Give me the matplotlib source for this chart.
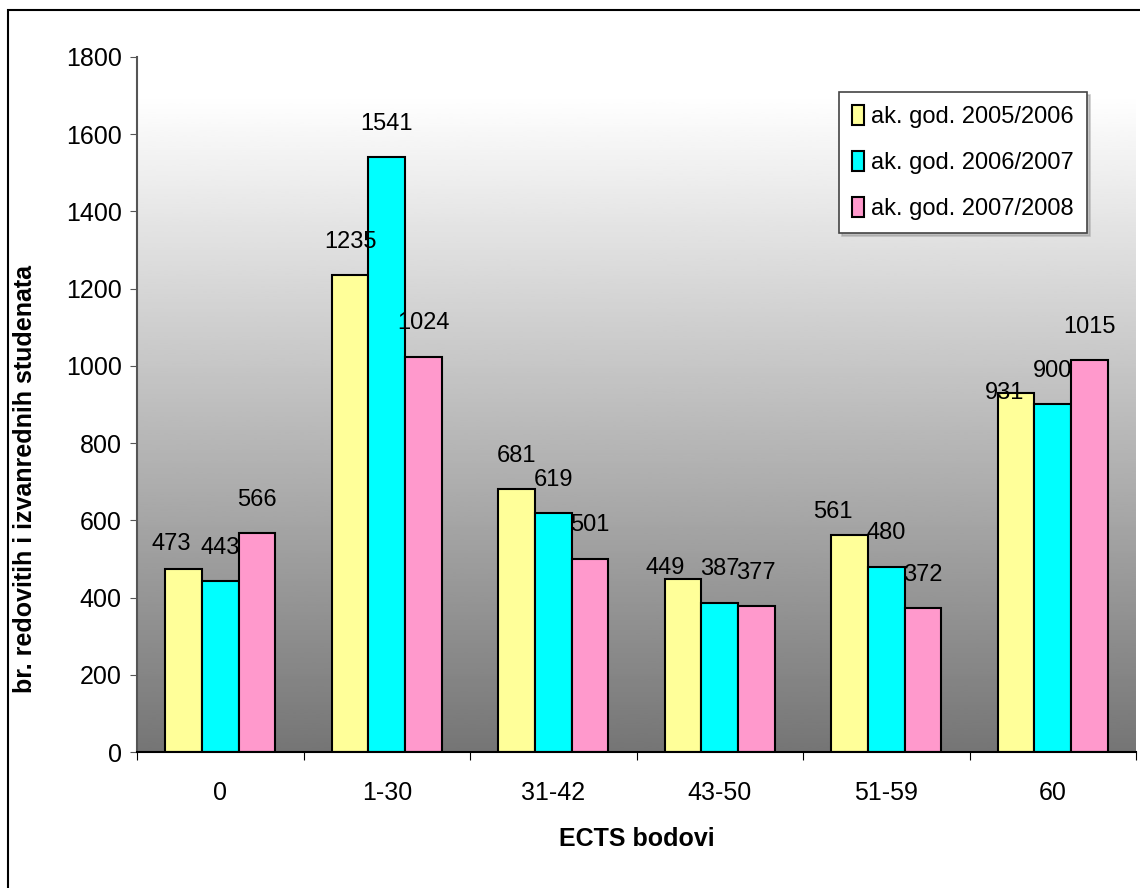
import numpy as np
import matplotlib.pyplot as plt
from matplotlib.patches import Rectangle

# Data
categories = ['0', '1-30', '31-42', '43-50', '51-59', '60']
series_names = ['ak. god. 2005/2006', 'ak. god. 2006/2007', 'ak. god. 2007/2008']
y2005 = [473, 1235, 681, 449, 561, 931]
y2006 = [443, 1541, 619, 387, 480, 900]
y2007 = [566, 1024, 501, 377, 372, 1015]
colors = ['#FFFF99', '#00FFFF', '#FF99CC']

# label nudges (points) for the first series, as placed in the original
nudge_2005 = [(-9, -6), (0, 0), (0, 0), (-13, -16), (-12, -7), (-8, -24)]

plt.rcParams['font.family'] = ['Liberation Sans Narrow', 'Liberation Sans', 'DejaVu Sans']
fs = 18

fig = plt.figure(figsize=(11.4, 8.88), dpi=100)
ax = fig.add_axes([137 / 1140, 136 / 888, 999 / 1140, 695 / 888])

x = np.arange(len(categories))
w = 0.22

# gradient background (white at top, grey at bottom)
grad = np.linspace(0.46, 1.0, 256).reshape(-1, 1)
ax.imshow(grad, cmap='gray', vmin=0, vmax=1, origin='lower', aspect='auto',
          extent=[-0.5, 5.5, 0, 1700], zorder=0)

for i, (vals, name) in enumerate(zip([y2005, y2006, y2007], series_names)):
    pos = x + (i - 1) * w
    bars = ax.bar(pos, vals, width=w, color=colors[i], edgecolor='black',
                  linewidth=1.5, label=name, zorder=2)
    for j, (b, v) in enumerate(zip(bars, vals)):
        dx, dy = nudge_2005[j] if i == 0 else (0, 0)
        ax.annotate(str(v), (b.get_x() + b.get_width() / 2, v),
                    xytext=(dx, 24 + dy), textcoords='offset points',
                    ha='center', va='center', fontsize=17, zorder=3)

ax.set_xlim(-0.5, 5.5)
ax.set_ylim(0, 1800)
ax.set_yticks(range(0, 1801, 200))
ax.tick_params(axis='y', labelsize=fs, length=5, color='#555555', pad=6)

# category boundaries as major ticks, labels as minor ticks
ax.set_xticks(np.arange(-0.5, 6, 1))
ax.set_xticklabels([])
ax.set_xticks(x, minor=True)
ax.set_xticklabels(categories, minor=True)
ax.tick_params(axis='x', which='major', length=6, color='black')
ax.tick_params(axis='x', which='minor', length=0, labelsize=fs, pad=21)

for s in ['top', 'right']:
    ax.spines[s].set_visible(False)
ax.spines['left'].set_color('#555555')
ax.spines['left'].set_linewidth(1.5)
ax.spines['bottom'].set_linewidth(1.5)

ax.set_ylabel('br. redovitih i izvanrednih studenata', fontsize=fs,
              fontweight='bold', labelpad=12)
ax.yaxis.set_label_coords(-0.1, 0.393)
ax.set_xlabel('ECTS bodovi', fontsize=fs, fontweight='bold', labelpad=16)

leg = ax.legend(loc='upper right', bbox_to_anchor=(0.951, 0.95), fontsize=17,
                frameon=True, fancybox=False, shadow={'color': '#999999', 'ox': 2, 'oy': -2},
                handlelength=0.5, handleheight=0.9,
                handletextpad=0.3, labelspacing=0.98, borderpad=0.56,
                borderaxespad=0)
leg.get_frame().set_edgecolor('#444444')
leg.get_frame().set_linewidth(1.2)
leg.get_frame().set_facecolor('white')
leg.get_frame().set_alpha(1)

# figure border (right and bottom edges fall outside the image)
fig.patches.append(Rectangle((8 / 1140, -10 / 888), 1.2, 888 / 888,
                             transform=fig.transFigure, fill=False,
                             edgecolor='black', linewidth=1.5))

fig.savefig('out.png', dpi=100)
